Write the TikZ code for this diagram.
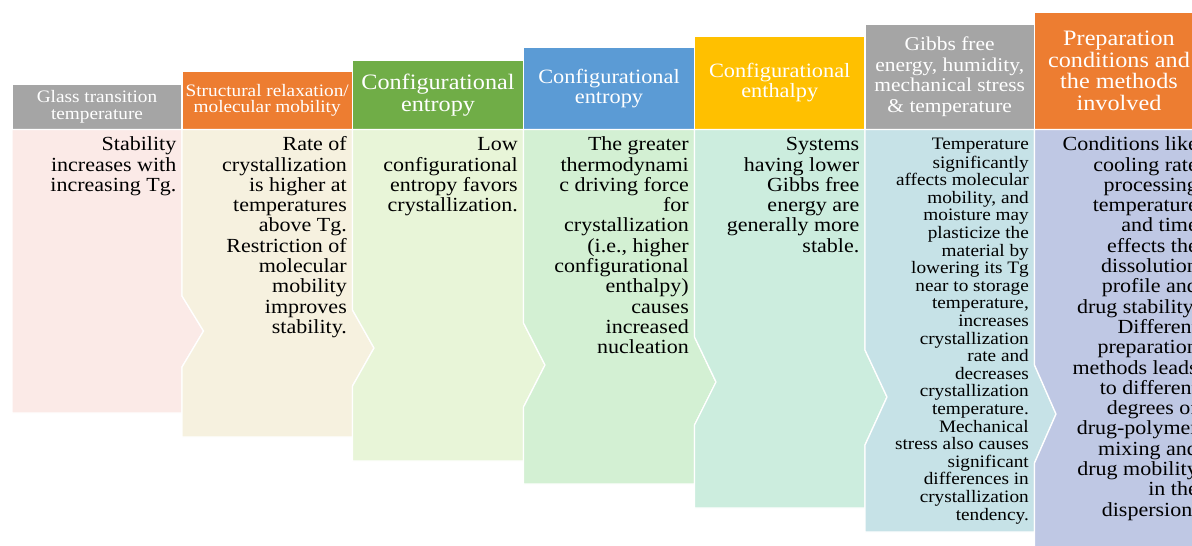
\documentclass[tikz,border=0pt]{standalone}
\usepackage{fontspec}
\setmainfont[FakeStretch=1.1]{Liberation Serif}
\definecolor{hgray}{HTML}{A5A5A5}
\definecolor{horange}{HTML}{ED7D31}
\definecolor{hgreen}{HTML}{70AD47}
\definecolor{hblue}{HTML}{5B9BD5}
\definecolor{hyellow}{HTML}{FFC000}
\definecolor{bpink}{HTML}{FBEAE7}
\definecolor{bcream}{HTML}{F6F1DF}
\definecolor{blgreen}{HTML}{E8F5D8}
\definecolor{bmint}{HTML}{D3F0D3}
\definecolor{bsea}{HTML}{CCEDDE}
\definecolor{bcyan}{HTML}{C6E2E7}
\definecolor{blav}{HTML}{BFC8E4}
\tikzset{
  panel/.style={draw=white, line width=1.3pt},
  htext/.style={text=white, align=center, inner sep=0pt},
  btext/.style={anchor=north east, align=right, inner sep=0pt, text=black,
                font=\fontsize{20}{20.3}\selectfont},
}
\begin{document}
\begin{tikzpicture}[x=1pt,y=-1pt]
\useasboundingbox (0,0) rectangle (1192,546);
\clip (0,0) rectangle (1192,546);

% header bars, stepping upwards from left to right
\path[panel, fill=hgray]   (12,84)     rectangle (182,129.5);
\path[panel, fill=horange] (182,71)    rectangle (352.5,129.5);
\path[panel, fill=hgreen]  (352.5,60.7) rectangle (523.5,129.5);
\path[panel, fill=hblue]   (523.5,47.3) rectangle (694.5,129.5);
\path[panel, fill=hyellow] (694.5,36)  rectangle (865,129.5);
\path[panel, fill=hgray]   (865,24)    rectangle (1034.5,129.5);
\path[panel, fill=horange] (1034.5,12.3) rectangle (1203.5,129.5);

% chevron body panels
\path[panel, fill=bpink] (12,129.5) -- (182,129.5) -- (182,296) -- (203.5,331) -- (182,367)
  -- (182,413) -- (12,413) -- cycle;
\path[panel, fill=bcream] (182,129.5) -- (352.5,129.5) -- (352.5,310) -- (374,348) -- (352.5,386)
  -- (352.5,437) -- (182,437) -- (182,367) -- (203.5,331) -- (182,296) -- cycle;
\path[panel, fill=blgreen] (352.5,129.5) -- (523.5,129.5) -- (523.5,323) -- (545,365) -- (523.5,407)
  -- (523.5,461) -- (352.5,461) -- (352.5,386) -- (374,348) -- (352.5,310) -- cycle;
\path[panel, fill=bmint] (523.5,129.5) -- (694.5,129.5) -- (694.5,337) -- (716,382) -- (694.5,425)
  -- (694.5,484) -- (523.5,484) -- (523.5,407) -- (545,365) -- (523.5,323) -- cycle;
\path[panel, fill=bsea] (694.5,129.5) -- (865,129.5) -- (865,350) -- (887,397) -- (865,445)
  -- (865,508) -- (694.5,508) -- (694.5,425) -- (716,382) -- (694.5,337) -- cycle;
\path[panel, fill=bcyan] (865,129.5) -- (1034.5,129.5) -- (1034.5,365) -- (1056,414) -- (1034.5,463)
  -- (1034.5,532) -- (865,532) -- (865,445) -- (887,397) -- (865,350) -- cycle;
\path[panel, fill=blav] (1034.5,129.5) -- (1203.5,129.5) -- (1203.5,556) -- (1034.5,556)
  -- (1034.5,463) -- (1056,414) -- (1034.5,365) -- cycle;

% header titles
\node[htext, font=\fontsize{17.5}{17.2}\selectfont] (h1) at (97,106.8)
  {Glass transition\\temperature};
\node[htext, font=\fontsize{17.5}{16.8}\selectfont] (h2) at (267.2,100.3)
  {Structural relaxation/\\molecular mobility};
\node[htext, font=\fontsize{22}{21.7}\selectfont] (h3) at (438,95)
  {Configurational\\entropy};
\node[htext, font=\fontsize{20.3}{20.7}\selectfont] (h4) at (609,88.4)
  {Configurational\\entropy};
\node[htext, font=\fontsize{20.3}{20}\selectfont] (h5) at (779.7,82.7)
  {Configurational\\enthalpy};
\node[htext, font=\fontsize{19.5}{20.4}\selectfont] (h6) at (949.7,76.7)
  {Gibbs free\\energy, humidity,\\mechanical stress\\\& temperature};
\node[htext, font=\fontsize{22}{21.8}\selectfont] (h7) at (1119,70.9)
  {Preparation\\conditions and\\the methods\\involved};

% panel texts
\node[btext] (b1) at (176.5,136.3)
  {\strut Stability\\increases with\\increasing Tg.};
\node[btext] (b2) at (347,136.3)
  {\strut Rate of\\crystallization\\is higher at\\temperatures\\above Tg.\\Restriction of\\molecular\\mobility\\improves\\stability.};
\node[btext] (b3) at (518,136.3)
  {\strut Low\\configurational\\entropy favors\\crystallization.};
\node[btext] (b4) at (689,136.3)
  {\strut The greater\\thermodynami\\c driving force\\for\\crystallization\\(i.e., higher\\configurational\\enthalpy)\\causes\\increased\\nucleation};
\node[btext] (b5) at (859.5,136.3)
  {\strut Systems\\having lower\\Gibbs free\\energy are\\generally more\\stable.};
\node[btext, font=\fontsize{17.5}{17.6}\selectfont] (b6) at (1029,137)
  {\strut Temperature\\significantly\\affects molecular\\mobility, and\\moisture may\\plasticize the\\material by\\lowering its Tg\\near to storage\\temperature,\\increases\\crystallization\\rate and\\decreases\\crystallization\\temperature.\\Mechanical\\stress also causes\\significant\\differences in\\crystallization\\tendency.};
\node[btext] (b7) at (1198,136.3)
  {\strut Conditions like\\cooling rate\\processing\\temperature\\and time\\effects the\\dissolution\\profile and\\drug stability.\\Different\\preparation\\methods leads\\to different\\degrees of\\drug-polymer\\mixing and\\drug mobility\\in the\\dispersion.};
\end{tikzpicture}
\end{document}
